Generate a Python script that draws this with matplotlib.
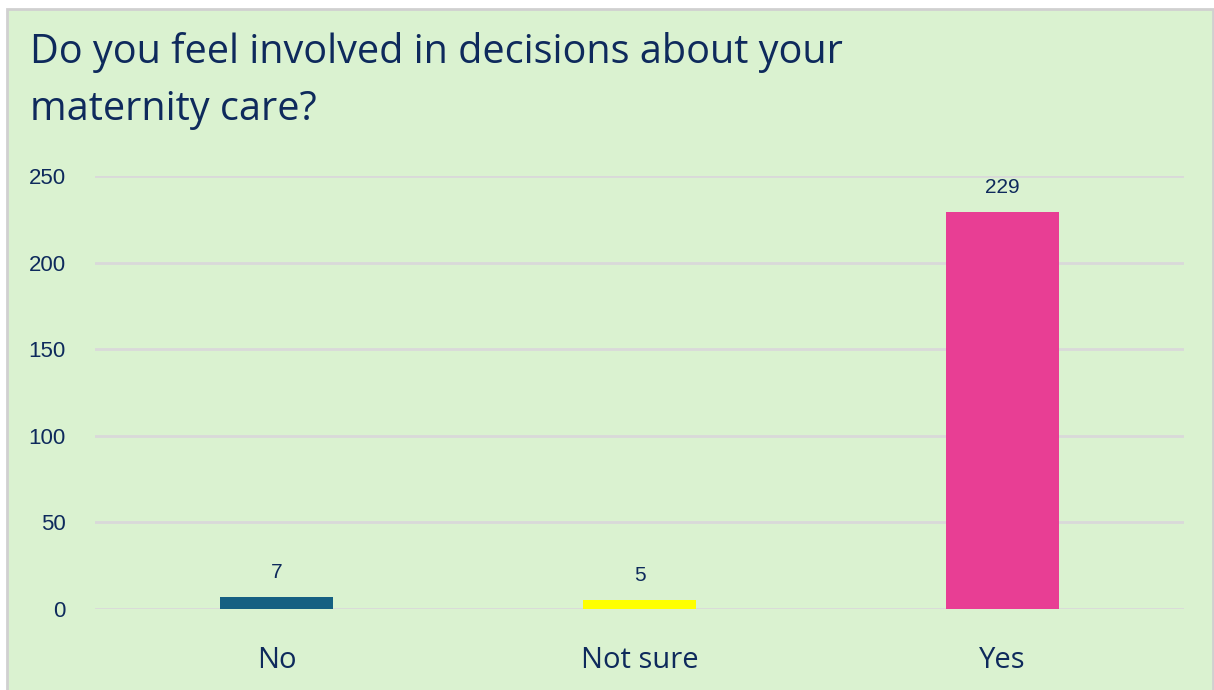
import matplotlib.pyplot as plt
from matplotlib.patches import Rectangle

categories = ["No", "Not sure", "Yes"]
counts = [7, 5, 229]
bar_colors = ["#156082", "#FFFF00", "#E83E94"]
yticks = [0, 50, 100, 150, 200, 250]

navy = "#0E2A5C"
bg = "#DAF2D0"
num_font = ['Liberation Sans', 'DejaVu Sans']

plt.rcParams['font.family'] = ['Open Sans', 'DejaVu Sans']

fig = plt.figure(figsize=(12.14, 6.9), dpi=100)
fig.patch.set_facecolor("white")
fig.patches.append(Rectangle((7 / 1214, -0.05), 1206 / 1214, 1.05 - 9 / 690,
                             transform=fig.transFigure, facecolor=bg,
                             edgecolor="#D0D0D0", linewidth=2, zorder=-10))

ax = fig.add_axes([95 / 1214, 1 - 609 / 690, 1089 / 1214, 433 / 690])
ax.set_facecolor("none")
ax.set_zorder(5)

x = range(len(categories))
bars = ax.bar(x, counts, width=0.314, color=bar_colors, zorder=3)
for b, v in zip(bars, counts):
    ax.annotate(str(v), (b.get_x() + b.get_width() / 2, v), xytext=(0, 11),
                textcoords="offset points", ha="center", va="bottom",
                fontsize=15, color=navy, family=num_font)

ax.set_xlim(-0.5, 2.5)
ax.set_ylim(0, 250)
ax.set_yticks(yticks)
ax.set_yticklabels([str(t) for t in yticks], family=num_font)
ax.set_xticks(list(x))
ax.set_xticklabels(categories, fontsize=21, color=navy)
ax.tick_params(axis="y", labelsize=16, labelcolor=navy, length=0, pad=21)
ax.tick_params(axis="x", length=0, pad=27)
ax.grid(axis="y", color="#D9D9D9", linewidth=2, zorder=0)
for s in ax.spines.values():
    s.set_visible(False)

fig.text(30 / 1214, 1 - 63 / 690, "Do you feel involved in decisions about your",
         fontsize=28.5, color=navy, va="baseline", ha="left")
fig.text(30 / 1214, 1 - 120 / 690, "maternity care?",
         fontsize=28.5, color=navy, va="baseline", ha="left")

fig.savefig("out.png", dpi=100, facecolor=fig.get_facecolor())
